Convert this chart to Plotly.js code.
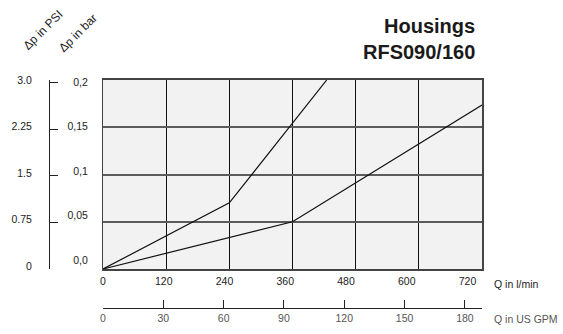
<!DOCTYPE html>
<html>
<head>
<meta charset="utf-8">
<script src="https://cdn.plot.ly/plotly-3.0.1.min.js"></script>
<style>html,body{margin:0;padding:0;background:#fff;}#chart{width:563px;height:334px;}</style>
</head>
<body>
<div id="chart"></div>
<script>
// ---- data ----
const flowTicksLmin = [0, 120, 240, 360, 480, 600, 720];
const flowTicksGpm = [0, 30, 60, 90, 120, 150, 180];
const barTicks = [0, 0.05, 0.1, 0.15, 0.2];
const barTickText = ['0,0', '0,05', '0,1', '0,15', '0,2'];
const psiTicks = [0, 0.75, 1.5, 2.25, 3.0];
const psiTickText = ['0', '0.75', '1.5', '2.25', '3.0'];
const flowA = [0, 240, 425];
const dpA = [0, 0.07, 0.2];
const flowB = [0, 360, 720];
const dpB = [0, 0.05, 0.1735];

// ---- layout helpers (pixel -> paper) ----
const W = 563, H = 334, ML = 5, MR = 81, MT = 80, MB = 10;
const PW = W - ML - MR, PH = H - MT - MB;
const px = x => (x - ML) / PW;
const py = y => (H - MB - y) / PH;

const FONT = '"Liberation Sans", Arial, sans-serif';
const TF = {family: FONT, size: 10.5, color: '#222'};

const traces = [
  {x: flowA, y: dpA, type: 'scatter', mode: 'lines', line: {color: '#111', width: 1.2}, xaxis: 'x', yaxis: 'y', hoverinfo: 'skip', showlegend: false},
  {x: flowB, y: dpB, type: 'scatter', mode: 'lines', line: {color: '#111', width: 1.2}, xaxis: 'x', yaxis: 'y', hoverinfo: 'skip', showlegend: false},
  {x: [null], y: [null], type: 'scatter', mode: 'lines', xaxis: 'x', yaxis: 'y2', hoverinfo: 'skip', showlegend: false},
  {x: [null], y: [null], type: 'scatter', mode: 'lines', xaxis: 'x2', yaxis: 'y', hoverinfo: 'skip', showlegend: false},
  {x: [null], y: [null], type: 'scatter', mode: 'lines', xaxis: 'x3', yaxis: 'y', hoverinfo: 'skip', showlegend: false},
  {x: [null], y: [null], type: 'scatter', mode: 'lines', xaxis: 'x', yaxis: 'y3', hoverinfo: 'skip', showlegend: false}
];

const layout = {
  width: W, height: H,
  margin: {l: ML, r: MR, t: MT, b: MB, pad: 0},
  paper_bgcolor: '#ffffff',
  plot_bgcolor: '#f2f2f2',
  font: TF,
  showlegend: false,
  // main flow axis (grid + frame), labels drawn by xaxis3
  xaxis: {
    domain: [px(103), 1], range: [0, 720], tickvals: flowTicksLmin,
    showgrid: true, gridcolor: '#111', gridwidth: 1, zeroline: false,
    showline: true, linecolor: '#444', linewidth: 2, mirror: true,
    ticks: '', showticklabels: false, anchor: 'y', fixedrange: true
  },
  // l/min labels
  xaxis3: {
    overlaying: 'x', anchor: 'y', side: 'bottom',
    range: [0, 748.6], tickvals: flowTicksLmin,
    showgrid: false, zeroline: false, showline: false,
    ticks: '', ticklabelstandoff: 4, tickfont: TF, fixedrange: true
  },
  // US GPM axis
  xaxis2: {
    overlaying: 'x', anchor: 'free', position: py(308), side: 'bottom',
    range: [0, 188.5], tickvals: flowTicksGpm,
    showgrid: false, zeroline: false, showline: true, linecolor: '#222', linewidth: 1,
    ticks: 'inside', ticklen: 8, tickcolor: '#222', tickwidth: 1,
    tickfont: {family: FONT, size: 10.5, color: '#555'}, fixedrange: true
  },
  // bar axis (grid + frame)
  yaxis: {
    domain: [py(269), 1], range: [0, 0.2], tickvals: barTicks,
    showgrid: true, gridcolor: '#5c5c5c', gridwidth: 2, zeroline: false,
    showline: true, linecolor: '#444', linewidth: 1.5, mirror: true,
    ticks: '', showticklabels: false, anchor: 'x', fixedrange: true
  },
  // bar labels
  yaxis3: {
    overlaying: 'y', anchor: 'x', side: 'left',
    range: [-0.0099, 0.2022], tickvals: barTicks, ticktext: barTickText,
    showgrid: false, zeroline: false, showline: false,
    ticks: 'outside', ticklen: 12, tickcolor: 'rgba(0,0,0,0)',
    tickfont: TF, fixedrange: true
  },
  // PSI bracket axis
  yaxis2: {
    overlaying: 'y', anchor: 'free', position: px(49), side: 'left',
    range: [0, 3.048], tickvals: psiTicks, ticktext: psiTickText,
    showgrid: false, zeroline: false, showline: true, linecolor: '#222', linewidth: 1,
    ticks: 'inside', ticklen: 8, tickcolor: '#222', tickwidth: 1, ticklabelstandoff: 15,
    ticklabelshift: -3,
    tickfont: TF, fixedrange: true
  },
  annotations: [
    {text: '<b>Housings</b>', xref: 'paper', yref: 'paper', x: px(477), y: py(26), xanchor: 'right', yanchor: 'middle', showarrow: false, font: {family: FONT, size: 20, color: '#1a1a1a'}},
    {text: '<b>RFS090/160</b>', xref: 'paper', yref: 'paper', x: px(477), y: py(52), xanchor: 'right', yanchor: 'middle', showarrow: false, font: {family: FONT, size: 20, color: '#1a1a1a'}},
    {text: 'Δp in PSI', xref: 'paper', yref: 'paper', x: px(43), y: py(30), xanchor: 'center', yanchor: 'middle', textangle: -45, showarrow: false, font: {family: FONT, size: 12, color: '#222'}},
    {text: 'Δp in bar', xref: 'paper', yref: 'paper', x: px(78), y: py(33), xanchor: 'center', yanchor: 'middle', textangle: -45, showarrow: false, font: {family: FONT, size: 12, color: '#222'}},
    {text: 'Q in l/min', xref: 'paper', yref: 'paper', x: px(492), y: py(284), xanchor: 'left', yanchor: 'middle', showarrow: false, font: TF},
    {text: 'Q in US GPM', xref: 'paper', yref: 'paper', x: px(492), y: py(319), xanchor: 'left', yanchor: 'middle', showarrow: false, font: {family: FONT, size: 10.5, color: '#555'}}
  ]
};

Plotly.newPlot('chart', traces, layout, {staticPlot: true, displayModeBar: false});
</script>
</body>
</html>
